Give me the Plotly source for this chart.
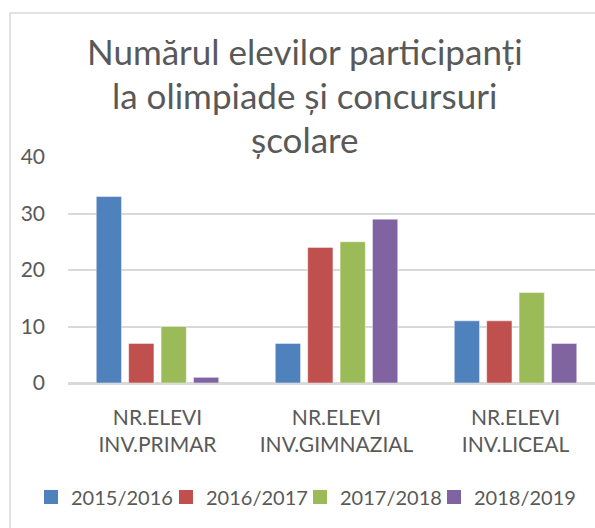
import plotly.graph_objects as go

# data
categories = ["NR.ELEVI<br>INV.PRIMAR", "NR.ELEVI<br>INV.GIMNAZIAL", "NR.ELEVI<br>INV.LICEAL"]
years = ["2015/2016", "2016/2017", "2017/2018", "2018/2019"]
v_2015 = [33, 7, 11]
v_2016 = [7, 24, 11]
v_2017 = [10, 25, 16]
v_2018 = [1, 29, 7]
colors = ["#4F81BD", "#C0504D", "#9BBB59", "#8064A2"]
title_lines = ["Numărul elevilor participanți", "la olimpiade și concursuri", "școlare"]

FONT = "Lato"
TXT = "#595959"
GRID = "#D9D9D9"
W, H = 595, 528

# left edge (px) of each legend entry; one legend per series keeps Excel's tight spacing
legend_left_px = [31, 166, 300, 434]
legend_ids = ["legend", "legend2", "legend3", "legend4"]

fig = go.Figure()
for name, vals, col, lid in zip(years, [v_2015, v_2016, v_2017, v_2018], colors, legend_ids):
    fig.add_trace(go.Bar(
        x=categories, y=vals, name=name, showlegend=False,
        marker=dict(color=col, line=dict(color="rgba(255,255,255,0.45)", width=1)),
    ))
    # legend-only entry so the key square is as large as Excel's
    fig.add_trace(go.Scatter(
        x=[None], y=[None], mode="markers", name=name, legend=lid,
        marker=dict(symbol="square", size=14, color=col),
    ))

# title drawn line by line to get the wide Excel line spacing
for i, line in enumerate(title_lines):
    fig.add_annotation(
        text=line, xref="paper", yref="paper",
        x=0.4497, y=1.47 - i * 0.195,
        xanchor="center", yanchor="middle", showarrow=False,
        font=dict(family=FONT, size=35, color=TXT),
    )

# chart-area border (only left and top edges fall inside the picture)
fig.add_shape(type="rect", xref="paper", yref="paper",
              x0=-0.110, x1=1.3, y0=-1.2, y1=1.637,
              line=dict(color=GRID, width=1.5), layer="below")

legends = {}
for lid, px in zip(legend_ids, legend_left_px):
    legends[lid] = dict(
        orientation="h", xref="container", yref="container",
        x=px / W, xanchor="left", y=0.0587, yanchor="middle",
        font=dict(family=FONT, size=20, color=TXT), itemwidth=30,
        bgcolor="rgba(0,0,0,0)",
    )

fig.update_layout(
    width=W, height=H,
    margin=dict(l=68, r=0, t=157, b=145, autoexpand=False),
    paper_bgcolor="white", plot_bgcolor="white",
    barmode="group", bargap=0.276, bargroupgap=0.22,
    font=dict(family=FONT, color=TXT),
    showlegend=True,
    **legends,
)
fig.update_xaxes(
    range=[-0.5, 2.444], showgrid=False, showline=True, linecolor=GRID, linewidth=1.5,
    ticks="", tickfont=dict(family=FONT, size=21, color=TXT), ticklabelstandoff=15,
)
fig.update_yaxes(
    range=[0, 40], dtick=10, showgrid=True, gridcolor=GRID, gridwidth=1.5,
    zeroline=True, zerolinecolor=GRID, zerolinewidth=1.5, showline=False,
    ticks="", tickfont=dict(family=FONT, size=21, color=TXT), ticklabelstandoff=22,
)

# drop the default page margin so the figure sits at the window's corner
fig.write_html(
    "out.html",
    config={"displayModeBar": False},
    post_script="document.body.style.margin='0';document.body.style.overflow='hidden';",
)
